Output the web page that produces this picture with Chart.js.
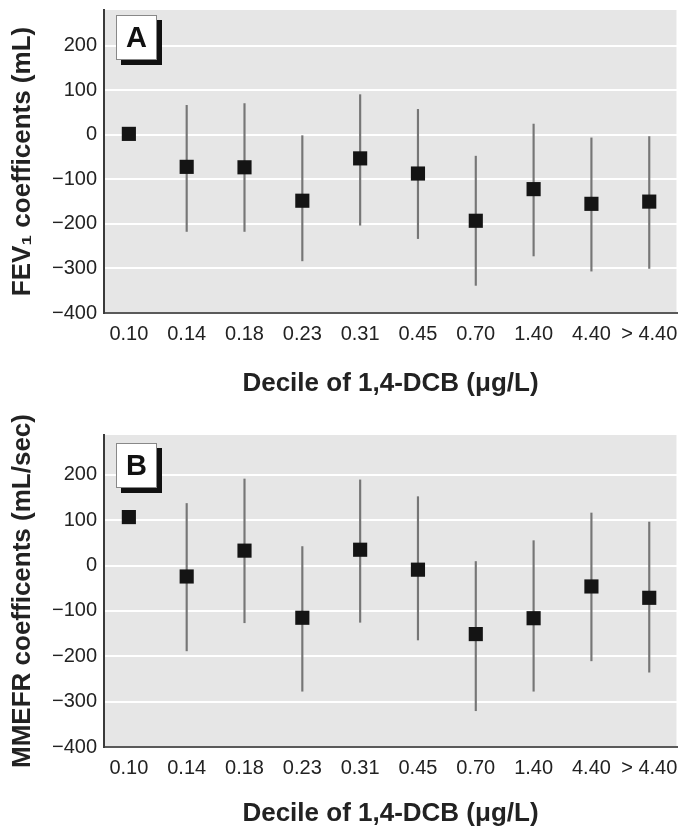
<!DOCTYPE html>
<html>
<head>
<meta charset="utf-8">
<script src="https://cdn.jsdelivr.net/npm/chart.js@4.4.1/dist/chart.umd.min.js"></script>
<style>
  html, body { margin: 0; padding: 0; background: #fff; }
  body { position: relative; width: 687px; height: 837px; overflow: hidden; }
  canvas { position: absolute; left: 0; }
  #chartA { top: 0; }
  #chartB { top: 395px; }
</style>
</head>
<body>
<canvas id="chartA" width="687" height="410"></canvas>
<canvas id="chartB" width="687" height="442"></canvas>
<script>
const deciles = ['0.10', '0.14', '0.18', '0.23', '0.31', '0.45', '0.70', '1.40', '4.40', '> 4.40'];

// panel A: FEV1 coefficients (mL)
const fevCoef = [2, -72, -73, -148, -53, -87, -193, -122, -155, -150];
const fevLow = [null, -217, -217, -283, -203, -233, -338, -272, -306, -300];
const fevHigh = [null, 66, 70, -2, 90, 57, -48, 24, -7, -4];

// panel B: MMEFR coefficients (mL/sec)
const mmefrCoef = [107, -24, 33, -115, 35, -9, -151, -116, -46, -71];
const mmefrLow = [null, -188, -126, -277, -125, -164, -320, -277, -210, -235];
const mmefrHigh = [null, 137, 191, 42, 189, 152, 9, 55, 116, 96];

const yTicks = [-400, -300, -200, -100, 0, 100, 200];

const FONT = "'Liberation Sans', Arial, sans-serif";

const panelBg = {
  id: 'panelBg',
  beforeDraw(chart) {
    const { ctx, chartArea: a } = chart;
    ctx.save();
    ctx.fillStyle = '#e6e6e6';
    ctx.fillRect(a.left, a.top, a.right - a.left, a.bottom - a.top);
    ctx.fillStyle = '#f3f3f3';
    ctx.fillRect(a.right - 1, a.top, 1, a.bottom - a.top);
    ctx.restore();
  }
};

const letterBox = {
  id: 'letterBox',
  afterDraw(chart, args, opts) {
    const { ctx, chartArea: a } = chart;
    const x = a.left + 12, y = a.top + opts.dy, w = 41, h = 45;
    ctx.save();
    ctx.fillStyle = '#111';
    ctx.fillRect(x + 5, y + 5, w, h);
    ctx.fillStyle = '#fff';
    ctx.fillRect(x, y, w, h);
    ctx.strokeStyle = '#888';
    ctx.lineWidth = 1;
    ctx.strokeRect(x + 0.5, y + 0.5, w - 1, h - 1);
    ctx.fillStyle = '#111';
    ctx.font = 'bold 29px ' + FONT;
    ctx.textAlign = 'center';
    ctx.textBaseline = 'middle';
    ctx.fillText(opts.text, x + w / 2, y + h / 2 + 1);
    ctx.restore();
  }
};

function makeChart(id, letter, yTitle, coef, low, high, yMax, pad, xHeight, xTitlePad, boxDy) {
  const points = coef.map((v, i) => ({ x: i, y: v }));
  const bars = [];
  low.forEach((lo, i) => {
    if (lo !== null) bars.push({ x: i, y: [lo, high[i]] });
  });

  new Chart(document.getElementById(id), {
    type: 'scatter',
    data: {
      datasets: [
        {
          type: 'bar',
          data: bars,
          backgroundColor: '#767676',
          barThickness: 1.5,
          order: 2
        },
        {
          type: 'scatter',
          data: points,
          pointStyle: 'rect',
          pointRadius: 10,
          pointHoverRadius: 10,
          backgroundColor: '#141414',
          borderWidth: 0,
          order: 1
        }
      ]
    },
    options: {
      responsive: false,
      animation: false,
      events: [],
      layout: { padding: { top: pad, right: 4, left: 0, bottom: 0 } },
      plugins: {
        legend: { display: false },
        tooltip: { enabled: false },
        letterBox: { text: letter, dy: boxDy }
      },
      scales: {
        x: {
          type: 'linear',
          offset: false,
          min: -0.43,
          max: 9.48,
          afterFit: s => { s.height = xHeight; s.paddingLeft = 0; s.paddingRight = 0; },
          grid: { display: false, drawTicks: false, offset: false },
          border: { color: '#5a5a5a', width: 2 },
          ticks: {
            stepSize: 1,
            includeBounds: false,
            autoSkip: false,
            maxRotation: 0,
            minRotation: 0,
            padding: 9,
            color: '#222',
            font: { family: FONT, size: 20 },
            callback: v => deciles[v] ?? ''
          },
          title: {
            display: true,
            text: 'Decile of 1,4-DCB (\u03bcg/L)',
            color: '#222',
            font: { family: FONT, size: 26, weight: 'bold' },
            padding: { top: 0, bottom: xTitlePad }
          }
        },
        y: {
          min: -400,
          max: yMax,
          afterFit: s => { s.width = 104; s.paddingTop = 0; s.paddingBottom = 0; },
          afterBuildTicks: s => { s.ticks = yTicks.map(v => ({ value: v })); },
          grid: {
            drawTicks: false,
            lineWidth: 2,
            color: c => (c.tick && c.tick.value === -400 ? 'rgba(0,0,0,0)' : '#ffffff')
          },
          border: { color: '#3a3a3a', width: 2 },
          ticks: {
            padding: 7,
            color: '#222',
            font: { family: FONT, size: 20 },
            callback: v => (v < 0 ? '\u2212' + Math.abs(v) : String(v))
          },
          title: {
            display: true,
            text: yTitle,
            color: '#222',
            font: { family: FONT, size: 26, weight: 'bold' },
            padding: { top: 7, bottom: 0 }
          }
        }
      }
    },
    plugins: [panelBg, letterBox]
  });
}

makeChart('chartA', 'A', 'FEV\u2081 coefficents (mL)', fevCoef, fevLow, fevHigh, 280, 5, 97, 11, 5);
makeChart('chartB', 'B', 'MMEFR coefficents (mL/sec)', mmefrCoef, mmefrLow, mmefrHigh, 288, 40, 90, 8, 8);
</script>
</body>
</html>
